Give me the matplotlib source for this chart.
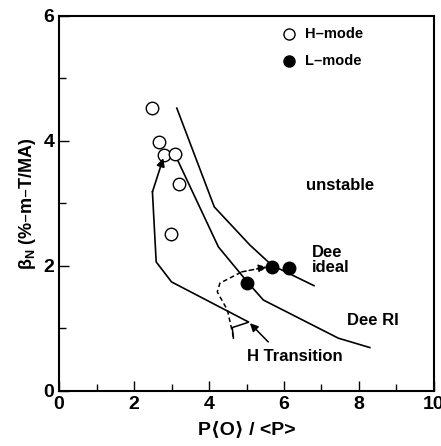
import matplotlib
matplotlib.use('Agg')
import matplotlib.pyplot as plt
from matplotlib.ticker import MultipleLocator

plt.rcParams['font.family'] = ['Liberation Sans Narrow', 'Liberation Sans', 'DejaVu Sans']
plt.rcParams['font.weight'] = 'bold'

# H-mode (open) and L-mode (filled) points
h_x = [2.49, 2.67, 2.79, 3.09, 3.20, 2.99]
h_y = [4.53, 3.98, 3.77, 3.78, 3.31, 2.51]
l_x = [5.68, 6.13, 5.02]
l_y = [1.98, 1.97, 1.73]

# stability boundaries
ideal_x = [3.14, 4.14, 5.09, 5.67, 6.80]
ideal_y = [4.52, 2.94, 2.33, 2.01, 1.68]
ri_x = [3.09, 4.25, 5.05, 5.45, 7.45, 8.29]
ri_y = [3.78, 2.30, 1.72, 1.45, 0.84, 0.69]

# H-mode trajectory (solid, arrow at end)
traj_x = [5.05, 3.00, 2.59, 2.49, 2.78]
traj_y = [1.10, 1.74, 2.06, 3.18, 3.72]

# L-mode trajectory (dashed, arrow at end)
dash_x = [4.65, 4.49, 4.22, 4.29, 4.87, 5.54]
dash_y = [0.86, 1.29, 1.58, 1.72, 1.90, 1.98]

# small bracket at the transition
brk_x = [4.65, 4.62, 5.03]
brk_y = [0.84, 1.01, 1.09]

fig = plt.figure(figsize=(4.41, 4.46), dpi=100)
ax = fig.add_axes([0.134, 0.124, 0.850, 0.841])

ax.plot(ideal_x, ideal_y, color='black', lw=1.2)
ax.plot(ri_x, ri_y, color='black', lw=1.2)
ax.plot(traj_x[:-1], traj_y[:-1], color='black', lw=1.2)
ax.annotate('', xy=(traj_x[-1], traj_y[-1]), xytext=(traj_x[-2], traj_y[-2]),
            arrowprops=dict(arrowstyle='-|>', color='black', lw=1.2,
                            mutation_scale=12, shrinkA=0, shrinkB=0))
ax.plot(dash_x[:-1], dash_y[:-1], color='black', lw=1.1, ls=(0, (3, 2)))
ax.annotate('', xy=(dash_x[-1], dash_y[-1]), xytext=(dash_x[-2], dash_y[-2]),
            arrowprops=dict(arrowstyle='-|>', color='black', lw=1.1, ls=(0, (3, 2)),
                            mutation_scale=12, shrinkA=0, shrinkB=0))
ax.plot(brk_x, brk_y, color='black', lw=1.1)

ax.plot(h_x, h_y, 'o', ms=9, mfc='white', mec='black', mew=1.0, ls='none')
ax.plot(l_x, l_y, 'o', ms=9, mfc='black', mec='black', ls='none')

# legend
ax.plot([6.13], [5.70], 'o', ms=8, mfc='white', mec='black', mew=1.0)
ax.plot([6.13], [5.28], 'o', ms=8, mfc='black', mec='black')
ax.text(6.55, 5.70, 'H\u2013mode', fontsize=10.5, va='center', fontweight='bold')
ax.text(6.55, 5.28, 'L\u2013mode', fontsize=10.5, va='center', fontweight='bold')

ax.text(7.49, 3.29, 'unstable', fontsize=12, ha='center', va='center', fontweight='bold')
ax.text(6.75, 2.09, 'Dee\nideal', fontsize=12, ha='left', va='center',
        fontweight='bold', linespacing=1.0)
ax.text(7.68, 1.13, 'Dee RI', fontsize=12, ha='left', va='center', fontweight='bold')
ax.text(5.01, 0.54, 'H Transition', fontsize=12, ha='left', va='center', fontweight='bold')
ax.annotate('', xy=(5.09, 1.08), xytext=(5.58, 0.78),
            arrowprops=dict(arrowstyle='-|>', color='black', lw=1.1,
                            mutation_scale=12, shrinkA=0, shrinkB=0))

ax.set_xlim(0, 10)
ax.set_ylim(0, 6)
ax.xaxis.set_major_locator(MultipleLocator(2))
ax.xaxis.set_minor_locator(MultipleLocator(1))
ax.yaxis.set_major_locator(MultipleLocator(2))
ax.yaxis.set_minor_locator(MultipleLocator(1))
ax.tick_params(which='both', direction='in', top=False, right=False,
               labelsize=14, width=1.0)
ax.tick_params(which='major', length=7)
ax.tick_params(which='minor', length=5)
for lab in ax.get_xticklabels() + ax.get_yticklabels():
    lab.set_fontweight('bold')
for sp in ax.spines.values():
    sp.set_linewidth(1.5)

ax.set_xlabel('P\u27e8O\u27e9 / <P>', fontsize=14, fontweight='bold', labelpad=6,
              family=['Liberation Sans Narrow', 'Liberation Sans', 'DejaVu Sans'])
ax.set_ylabel('\u03b2$_\\mathregular{N}$ (%\u2013m\u2013T/MA)', fontsize=13,
              fontweight='bold', labelpad=4)

fig.savefig('out.png', dpi=100)
